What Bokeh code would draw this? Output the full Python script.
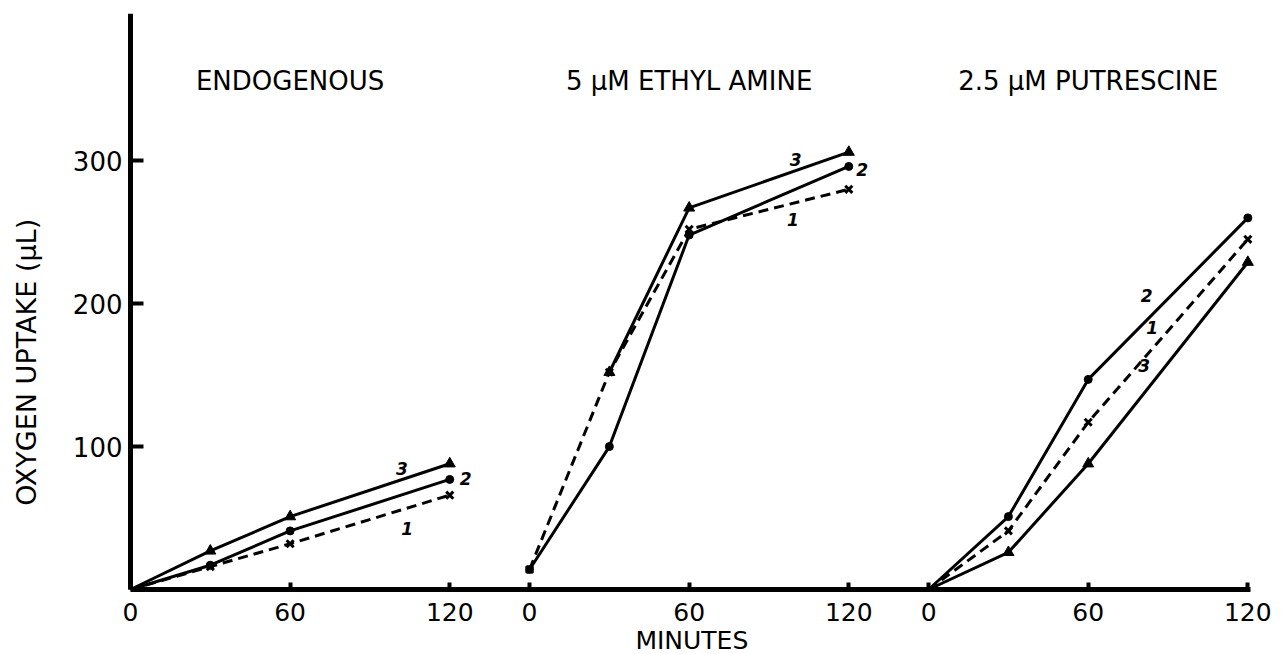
import math
from bokeh.plotting import figure
from bokeh.models import Range1d, FixedTicker
from bokeh.core.properties import value
from bokeh.embed import file_html
from bokeh.resources import INLINE

# ---------------- data ----------------
panel_titles = ["ENDOGENOUS", "5 \u03bcM ETHYL AMINE", "2.5 \u03bcM PUTRESCINE"]
minute_ticks = [0, 60, 120]
y_ticks = [100, 200, 300]
y_title = "OXYGEN UPTAKE (\u03bcL)"
x_title = "MINUTES"

# series 1 (x markers, dashed line)
s1_time = [[0, 30, 60, 120], [0, 30, 60, 120], [0, 30, 60, 120]]
s1_uptake = [[0, 16, 32, 66], [14, 152, 252, 280], [0, 41, 117, 245]]
# series 2 (dots, solid line)
s2_time = [[0, 30, 60, 120], [0, 30, 60, 120], [0, 30, 60, 120]]
s2_uptake = [[0, 17, 41, 77], [14, 100, 248, 296], [0, 51, 147, 260]]
# series 3 (triangles, solid line)
s3_time = [[0, 30, 60, 120], [30, 60, 120], [0, 30, 60, 120]]
s3_uptake = [[0, 27, 51, 88], [152, 267, 306], [0, 26, 88, 229]]

series_names = ["1", "2", "3"]
# curve-number label anchors per panel (minutes, uptake)
label_time = [[104, 126, 102], [99, 125, 100], [84, 82, 81]]
label_uptake = [[43, 78, 85], [259, 294, 301], [183, 206, 157]]

# ---------------- layout constants ----------------
FONT = "DejaVu Sans"
PANEL_STEP = 150  # minutes of x-space per panel (120 + gap)
offsets = [i * PANEL_STEP for i in range(len(panel_titles))]
AXIS_END = 421                       # end of the drawn time axis
PX_PER_MIN = 1120 / AXIS_END
X_START = -130 / PX_PER_MIN          # room on the left for y labels / title
X_END = AXIS_END + 35 / PX_PER_MIN   # room on the right for the last tick label
Y_END = 403
PX_PER_UNIT = 576 / Y_END
Y_START = -65 / PX_PER_UNIT          # room below for x labels / title

p = figure(frame_width=1285, frame_height=641,
           x_range=Range1d(X_START, X_END), y_range=Range1d(Y_START, Y_END),
           output_backend="svg", toolbar_location=None,
           min_border_left=0, min_border_right=0,
           min_border_top=13, min_border_bottom=0)
p.background_fill_color = "white"
p.border_fill_color = "white"
p.outline_line_color = None
p.xgrid.visible = False
p.ygrid.visible = False

# x axis, pinned at uptake 0
xt = [off + m for off in offsets for m in minute_ticks]
xa = p.xaxis[0]
xa.fixed_location = 0
xa.bounds = (0, AXIS_END)
xa.ticker = FixedTicker(ticks=xt)
xa.major_label_overrides = {off + m: str(m) for off in offsets for m in minute_ticks}
xa.minor_tick_line_color = None
xa.major_tick_in = 7
xa.major_tick_out = 0
xa.major_tick_line_width = 4
xa.major_tick_line_color = "black"
xa.axis_line_width = 5
xa.axis_line_color = "black"
xa.major_label_text_font = FONT
xa.major_label_text_font_size = "25px"
xa.major_label_text_color = "black"
xa.major_label_standoff = 13

# y axis, pinned at minute 0 of the first panel
ya = p.yaxis[0]
ya.fixed_location = 0
ya.bounds = (0, Y_END)
ya.ticker = FixedTicker(ticks=y_ticks)
ya.minor_tick_line_color = None
ya.major_tick_in = 13
ya.major_tick_out = 0
ya.major_tick_line_width = 4
ya.major_tick_line_color = "black"
ya.axis_line_width = 5
ya.axis_line_color = "black"
ya.major_label_text_font = FONT
ya.major_label_text_font_size = "26px"
ya.major_label_text_color = "black"
ya.major_label_standoff = 8
ya.major_label_orientation = "horizontal"

# axis titles
p.text(x=[-39], y=[159], text=[y_title], angle=math.pi / 2,
       text_font=value(FONT), text_font_size="27px", text_color="black",
       text_align="center", text_baseline="middle")
p.text(x=[PANEL_STEP + 61], y=[-36], text=[x_title],
       text_font=value(FONT), text_font_size="25px", text_color="black",
       text_align="center", text_baseline="middle")

# panel titles
p.text(x=[off + 60 for off in offsets], y=[356] * len(offsets), text=panel_titles,
       text_font=value(FONT), text_font_size="26px", text_color="black",
       text_align="center", text_baseline="middle")

styles = [
    dict(times=s1_time, vals=s1_uptake, dash="10 6", marker="x", size=10),
    dict(times=s2_time, vals=s2_uptake, dash="solid", marker="circle", size=8),
    dict(times=s3_time, vals=s3_uptake, dash="solid", marker="triangle", size=11),
]

for i, off in enumerate(offsets):
    for st in styles:
        xs = [off + t for t in st["times"][i]]
        ys = st["vals"][i]
        p.line(xs, ys, line_width=3, line_color="black", line_dash=st["dash"])
        p.scatter(xs[1:] if ys[0] == 0 else xs, ys[1:] if ys[0] == 0 else ys,
                  marker=st["marker"], size=st["size"], line_color="black",
                  fill_color="black", line_width=3 if st["marker"] == "x" else 1)
    p.text(x=[off + t for t in label_time[i]], y=label_uptake[i], text=series_names,
           text_font=value(FONT), text_font_size="17px", text_font_style="bold italic",
           text_color="black", text_align="center", text_baseline="middle")

open("out.html", "w").write(file_html(p, INLINE))
